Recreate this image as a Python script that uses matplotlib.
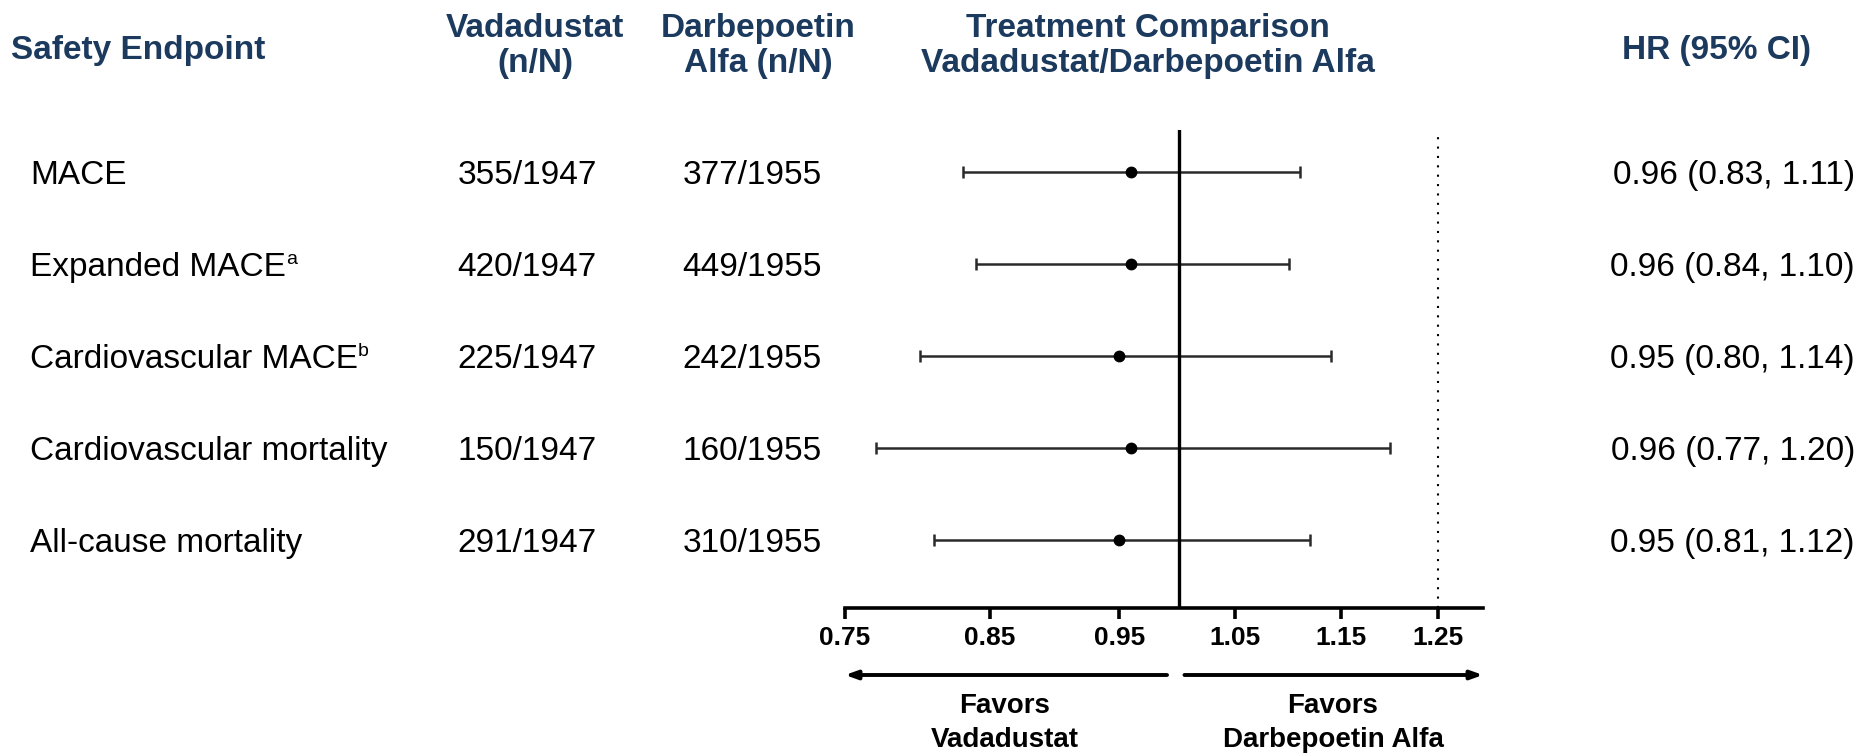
import matplotlib
matplotlib.use("Agg")
import matplotlib.pyplot as plt
import numpy as np
from matplotlib.transforms import blended_transform_factory

# safety endpoints, event counts and hazard ratios
endpoints = ["MACE", "Expanded MACE", "Cardiovascular MACE",
             "Cardiovascular mortality", "All-cause mortality"]
footnotes = ["", "a", "b", "", ""]
vada_counts = ["355/1947", "420/1947", "225/1947", "150/1947", "291/1947"]
darbe_counts = ["377/1955", "449/1955", "242/1955", "160/1955", "310/1955"]
hr = [0.96, 0.96, 0.95, 0.96, 0.95]
ci_low = [0.83, 0.84, 0.80, 0.77, 0.81]
ci_high = [1.11, 1.10, 1.14, 1.20, 1.12]
xticks = [0.75, 0.85, 0.95, 1.05, 1.15, 1.25]

NAVY = "#1b3a5e"
W, H = 1874, 755
plt.rcParams["font.family"] = ["Liberation Sans", "DejaVu Sans"]

fig = plt.figure(figsize=(W / 100, H / 100), dpi=100)


def fx(px):
    return px / W


def fy(py):
    return 1 - py / H


# forest panel, placed in pixel terms
ax_l, ax_r, ax_t, ax_b = 845, 1483, 130, 608
ax = fig.add_axes([fx(ax_l), fy(ax_b), fx(ax_r - ax_l), (ax_b - ax_t) / H])
ax.set_xscale("log")
ax.set_xlim(0.75, 1.30)
row_top, row_step = 172, 92
ax.set_ylim((ax_b - row_top) / row_step, (ax_t - row_top) / row_step)

rows = np.arange(len(endpoints))
ax.errorbar(hr, rows, xerr=[np.subtract(hr, ci_low), np.subtract(ci_high, hr)],
            fmt="o", color="black", ms=7.5, ecolor="#2a2a2a", elinewidth=1.8,
            capsize=4, capthick=1.8)
ax.axvline(1.0, color="black", lw=2.4)
ax.axvline(1.25, color="black", lw=1.5, ls=(0, (1, 3.5)))

for s in ("top", "right", "left"):
    ax.spines[s].set_visible(False)
ax.spines["bottom"].set_linewidth(2.6)
ax.set_yticks([])
ax.set_xticks(xticks)
ax.set_xticks([], minor=True)
ax.set_xticklabels([f"{t:.2f}" for t in xticks], fontsize=19, fontweight="bold")
ax.tick_params(axis="x", direction="out", length=8, width=2.6, pad=5)

# text columns share the row positions of the forest panel
tr = blended_transform_factory(fig.transFigure, ax.transData)
for i in rows:
    t = ax.text(fx(30), i + 0.04, endpoints[i], transform=tr, fontsize=24,
                va="center", ha="left")
    if footnotes[i]:
        ax.annotate(footnotes[i], xy=(1.0, 0.5), xycoords=t, fontsize=14,
                    va="bottom", ha="left")
    ax.text(fx(527), i + 0.04, vada_counts[i], transform=tr, fontsize=24,
            va="center", ha="center")
    ax.text(fx(752), i + 0.04, darbe_counts[i], transform=tr, fontsize=24,
            va="center", ha="center")
    ax.text(fx(1855), i + 0.04, f"{hr[i]:.2f} ({ci_low[i]:.2f}, {ci_high[i]:.2f})",
            transform=tr, fontsize=24, va="center", ha="right")

# column headers
hkw = dict(color=NAVY, fontweight="bold", fontsize=24,
           ha="center", va="center", linespacing=1.15)
fig.text(fx(11), fy(50), "Safety Endpoint", **{**hkw, "ha": "left"})
fig.text(fx(535), fy(46), "Vadadustat\n(n/N)", **hkw)
fig.text(fx(758), fy(46), "Darbepoetin\nAlfa (n/N)", **hkw)
fig.text(fx(1148), fy(46), "Treatment Comparison\nVadadustat/Darbepoetin Alfa", **hkw)
fig.text(fx(1717), fy(50), "HR (95% CI)", **hkw)

# direction arrows under the axis
tra = blended_transform_factory(ax.transData, fig.transFigure)
akw = dict(arrowstyle="-|>,head_length=0.7,head_width=0.25", color="black",
           lw=2.8, shrinkA=0, shrinkB=0)
ax.annotate("", xy=(0.75, fy(675)), xytext=(0.99, fy(675)), xycoords=tra,
            textcoords=tra, arrowprops=akw, annotation_clip=False)
ax.annotate("", xy=(1.30, fy(675)), xytext=(1.005, fy(675)), xycoords=tra,
            textcoords=tra, arrowprops=akw, annotation_clip=False)
fkw = dict(transform=fig.transFigure, fontsize=20, fontweight="bold",
           ha="center", va="center", linespacing=1.4)
fig.text(fx(1005), fy(723), "Favors\nVadadustat", **fkw)
fig.text(fx(1333), fy(723), "Favors\nDarbepoetin Alfa", **fkw)

fig.savefig("out.png", dpi=100, facecolor="white")
